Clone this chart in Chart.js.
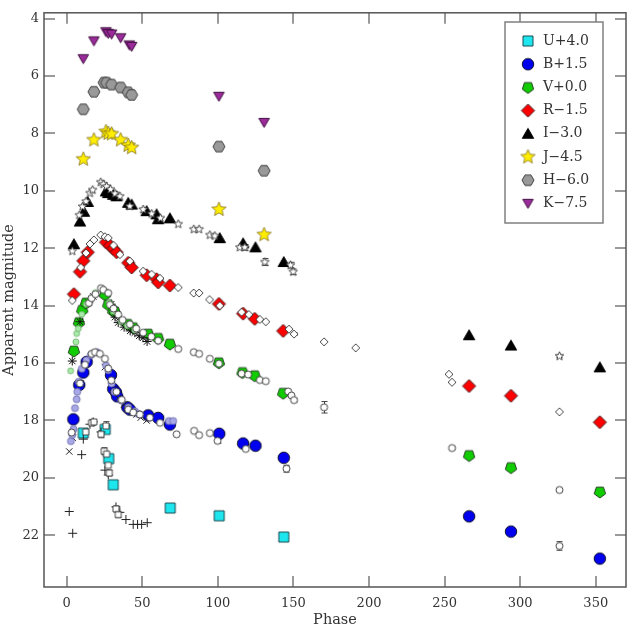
<!DOCTYPE html>
<html>
<head>
<meta charset="utf-8">
<script src="https://cdn.jsdelivr.net/npm/chart.js@4.4.0/dist/chart.umd.min.js"></script>
<style>
  html, body { margin: 0; padding: 0; background: #fff; }
</style>
</head>
<body>
<canvas id="lightCurve" width="632" height="632"></canvas>
<script>
// axis ticks
const phaseTicks = [0, 50, 100, 150, 200, 250, 300, 350];
const magTicks = [4, 6, 8, 10, 12, 14, 16, 18, 20, 22];

const legendLabels = ['U+4.0', 'B+1.5', 'V+0.0', 'R\u22121.5', 'I\u22123.0', 'J\u22124.5', 'H\u22126.0', 'K\u22127.5'];

// main photometry, [phase, shifted magnitude]
const bandU = [[11.0, 18.44], [25.5, 18.31], [27.8, 19.33], [30.8, 20.24], [68.5, 21.05], [100.9, 21.32], [143.6, 22.06]];
const bandB = [[4.4, 17.96], [8.3, 16.76], [11.0, 16.33], [13.2, 15.96], [29.3, 16.42], [30.8, 16.90], [32.6, 17.02], [33.4, 17.16],
  [40.1, 17.54], [41.8, 17.62], [53.9, 17.82], [60.5, 17.91], [68.3, 18.14], [100.9, 18.46], [116.7, 18.80], [124.9, 18.88],
  [143.6, 19.30], [266.2, 21.34], [293.9, 21.87], [352.7, 22.81]];
const bandV = [[4.8, 15.58], [8.1, 14.59], [10.3, 14.16], [12.8, 13.91], [25.3, 13.62], [27.5, 13.97], [30.8, 14.19], [31.9, 14.22],
  [40.3, 14.65], [44.0, 14.77], [53.9, 14.99], [60.5, 15.14], [68.3, 15.34], [100.7, 15.99], [116.3, 16.33], [124.4, 16.44],
  [143.2, 17.05], [266.2, 19.22], [293.9, 19.64], [352.7, 20.49]];
const bandR = [[4.8, 13.60], [8.8, 12.82], [11.0, 12.44], [13.9, 12.14], [26.0, 11.79], [28.6, 11.91], [30.8, 12.02], [33.0, 12.14],
  [40.7, 12.51], [43.0, 12.67], [52.9, 12.94], [59.5, 13.08], [60.5, 13.19], [68.3, 13.30], [100.7, 13.94], [116.7, 14.28],
  [124.4, 14.46], [143.2, 14.88], [266.2, 16.80], [293.9, 17.14], [352.7, 18.06]];
const bandI = [[4.8, 11.86], [8.8, 11.07], [11.4, 10.73], [13.9, 10.39], [26.0, 10.02], [27.5, 10.08], [30.8, 10.14], [33.0, 10.19],
  [40.7, 10.42], [43.0, 10.48], [52.9, 10.71], [59.5, 10.82], [60.5, 10.99], [68.3, 10.96], [101.3, 11.65], [116.7, 11.83],
  [124.9, 11.97], [143.6, 12.48], [266.2, 15.03], [293.9, 15.39], [352.7, 16.15]];
const bandJ = [[11.0, 8.90], [18.0, 8.23], [26.0, 7.94], [27.5, 8.00], [29.7, 8.02], [35.7, 8.23], [40.7, 8.42], [43.0, 8.50],
  [100.7, 10.65], [130.6, 11.53]];
const bandH = [[11.0, 7.16], [18.0, 6.55], [24.7, 6.23], [26.4, 6.23], [29.7, 6.30], [35.7, 6.40], [40.7, 6.57], [43.0, 6.66],
  [100.7, 8.46], [130.6, 9.30]];
const bandK = [[11.0, 5.40], [18.0, 4.78], [26.0, 4.46], [27.5, 4.52], [29.7, 4.54], [35.7, 4.67], [41.4, 4.92], [43.0, 4.97],
  [100.7, 6.71], [130.6, 7.62]];

// comparison photometry (open symbols)
const compU = [[12.6, 18.40], [16.5, 18.08], [18.0, 18.05], [22.7, 18.48], [24.8, 19.07], [26.0, 18.19], [26.4, 19.17],
  [27.5, 19.56], [28.2, 19.83], [32.6, 21.08], [34.1, 21.28]];
const compB = [[3.3, 18.42], [8.8, 16.71], [12.1, 16.06], [16.5, 15.68], [18.7, 15.62], [22.0, 15.68], [25.3, 15.85], [27.5, 16.19],
  [29.5, 16.60], [33.0, 17.00], [36.4, 17.28], [40.7, 17.62], [44.0, 17.72], [48.4, 17.79], [55.0, 17.90], [61.7, 18.08],
  [72.7, 18.48], [84.3, 18.36], [87.6, 18.51], [94.7, 18.44], [99.8, 18.71], [118.5, 18.99], [145.4, 19.68], [326.0, 22.37]];
const compV = [[14.7, 13.91], [16.5, 13.74], [19.0, 13.60], [22.7, 13.39], [24.2, 13.45], [27.5, 13.56], [28.6, 13.97], [31.0, 14.10],
  [34.1, 14.31], [37.0, 14.50], [41.8, 14.65], [46.0, 14.80], [50.6, 14.94], [56.0, 15.08], [60.5, 15.22], [73.8, 15.51],
  [84.1, 15.62], [87.6, 15.68], [94.7, 15.85], [100.7, 16.02], [115.7, 16.37], [120.0, 16.40], [127.8, 16.59], [131.7, 16.63],
  [146.5, 16.99], [148.7, 17.13], [150.4, 17.29], [170.3, 17.54], [254.9, 18.96], [326.0, 20.42]];
const compR = [[3.7, 13.82], [9.3, 12.67], [12.8, 12.17], [15.4, 11.85], [18.0, 11.71], [22.5, 11.54], [25.3, 11.60], [27.5, 11.64],
  [31.0, 11.90], [35.2, 12.22], [41.8, 12.45], [50.6, 12.80], [56.2, 12.91], [61.7, 13.05], [73.8, 13.37], [84.0, 13.56],
  [87.6, 13.56], [94.5, 13.79], [101.3, 14.00], [115.7, 14.23], [120.5, 14.31], [127.8, 14.48], [131.7, 14.56], [147.1, 14.82],
  [150.4, 14.99], [170.3, 15.26], [191.2, 15.47], [252.9, 16.39], [254.9, 16.67], [326.0, 17.70]];
const compI = [[3.7, 12.10], [8.3, 10.85], [10.5, 10.55], [12.8, 10.37], [15.4, 10.08], [17.2, 9.97], [22.5, 9.70], [24.2, 9.77],
  [26.4, 9.85], [29.0, 9.95], [32.0, 10.10], [35.2, 10.19], [41.8, 10.54], [50.6, 10.65], [56.2, 10.80], [62.0, 10.95],
  [73.8, 11.16], [84.1, 11.34], [87.6, 11.34], [94.7, 11.54], [98.0, 11.57], [114.5, 11.97], [117.8, 11.97], [131.1, 12.48],
  [148.1, 12.59], [149.8, 12.82], [326.0, 15.76]];

// other sources
const otherB = [[2.8, 18.72], [3.7, 18.50], [4.5, 18.30], [5.5, 17.57], [6.6, 17.26], [7.0, 17.00], [8.0, 16.65], [10.0, 16.20],
  [13.0, 15.90], [16.0, 15.72], [20.0, 15.62], [26.0, 16.08], [27.5, 16.25], [29.7, 16.71], [31.5, 17.00], [36.0, 17.30],
  [40.7, 17.54], [45.1, 17.68], [47.3, 17.77], [48.4, 17.79], [67.6, 18.02], [70.5, 18.02]];
const otherV = [[2.6, 16.27], [6.1, 15.26], [6.6, 14.97], [7.7, 14.80], [10.0, 14.30], [13.0, 13.95], [16.0, 13.75], [19.0, 13.55],
  [28.0, 13.90], [31.0, 14.20], [36.0, 14.55], [40.0, 14.70], [45.0, 14.85]];
const starV = [[3.7, 15.93], [8.8, 14.56], [14.5, 13.90], [17.6, 13.68], [29.5, 13.95], [32.0, 14.40], [34.1, 14.59], [38.0, 14.75],
  [42.0, 14.88], [45.1, 14.94], [48.0, 15.05], [50.5, 15.12], [53.2, 15.25]];
const crossB = [[1.7, 19.08], [4.0, 18.60], [9.3, 16.71], [25.3, 16.14], [30.0, 16.60], [34.1, 17.22], [38.0, 17.45], [43.0, 17.68],
  [46.3, 17.79], [49.0, 17.90], [52.9, 18.00]];
const plusU = [[1.7, 21.17], [4.0, 21.93], [9.9, 19.19], [11.0, 18.65], [15.4, 18.13], [17.5, 18.05], [22.7, 18.40], [25.3, 19.73],
  [27.5, 19.90], [32.6, 21.01], [35.2, 21.20], [39.2, 21.45], [44.0, 21.62], [46.9, 21.62], [49.6, 21.62], [53.3, 21.56]];

// [phase, mag, error] for the points that show error bars
const errorBars = [[131.1, 12.48, 0.12], [117.8, 11.97, 0.1], [148.1, 12.59, 0.1], [149.8, 12.82, 0.1], [170.3, 17.54, 0.2],
  [145.4, 19.68, 0.12], [99.8, 18.71, 0.08], [326.0, 22.37, 0.15], [16.5, 18.08, 0.1], [22.7, 18.48, 0.12],
  [24.8, 19.07, 0.12], [26.0, 18.19, 0.15], [28.2, 19.83, 0.1], [32.6, 21.08, 0.1], [34.1, 21.28, 0.1],
  [254.9, 18.96, 0.04], [326.0, 20.42, 0.04], [326.0, 15.76, 0.05], [150.4, 17.29, 0.06], [150.4, 14.99, 0.05]];

function polyPath(g, cx, cy, radii, n, startDeg) {
  for (let i = 0; i < n; i++) {
    const a = (startDeg + i * 360 / n) * Math.PI / 180;
    const r = radii[i % radii.length];
    const px = cx + r * Math.cos(a), py = cy + r * Math.sin(a);
    if (i === 0) g.moveTo(px, py); else g.lineTo(px, py);
  }
  g.closePath();
}

function makeMarker(shape, size, fill, stroke, lw) {
  const d = Math.ceil(size + 4);
  const c = document.createElement('canvas');
  c.width = d; c.height = d;
  const g = c.getContext('2d');
  const cx = d / 2, cy = d / 2, r = size / 2;
  g.beginPath();
  if (shape === 'circle') g.arc(cx, cy, r, 0, Math.PI * 2);
  else if (shape === 'square') g.rect(cx - r, cy - r, size, size);
  else if (shape === 'diamond') polyPath(g, cx, cy, [r], 4, -90);
  else if (shape === 'pentagon') polyPath(g, cx, cy, [r], 5, 90);
  else if (shape === 'hexagon') polyPath(g, cx, cy, [r], 6, 0);
  else if (shape === 'triUp') polyPath(g, cx, cy + r * 0.2, [r * 1.1], 3, -90);
  else if (shape === 'triDown') polyPath(g, cx, cy - r * 0.2, [r * 1.1], 3, 90);
  else if (shape === 'star') polyPath(g, cx, cy, [r, r * 0.45], 10, -90);
  g.fillStyle = fill;
  g.fill();
  g.lineWidth = lw;
  g.strokeStyle = stroke;
  g.stroke();
  return c;
}

const mainMarkers = [
  makeMarker('square', 10, '#1ee6ee', '#1b4b50', 1),
  makeMarker('circle', 11.5, '#0000ee', '#101030', 1),
  makeMarker('pentagon', 12, '#11cc00', '#204020', 1),
  makeMarker('diamond', 13, '#ff0000', '#401010', 1),
  makeMarker('triUp', 12, '#000000', '#000000', 1),
  makeMarker('star', 15, '#ffee00', '#807020', 0.8),
  makeMarker('hexagon', 12, '#999999', '#404040', 1),
  makeMarker('triDown', 11, '#9b2a9b', '#401040', 1)
];
const mainBands = [bandU, bandB, bandV, bandR, bandI, bandJ, bandH, bandK];

const toPts = arr => arr.map(p => ({ x: p[0], y: p[1] }));

const datasets = [];
mainBands.forEach((band, i) => {
  datasets.push({ label: legendLabels[i], data: toPts(band), pointStyle: mainMarkers[i], order: 2 });
});

const openSpecs = [
  [compU, makeMarker('square', 6, '#ffffff', '#333333', 0.9)],
  [compB, makeMarker('circle', 7, '#ffffff', '#333333', 0.9)],
  [compV, makeMarker('circle', 7, '#ffffff', '#333333', 0.9)],
  [compR, makeMarker('diamond', 8, '#ffffff', '#333333', 0.9)],
  [compI, makeMarker('star', 9, '#ffffff', '#333333', 0.9)],
  [otherB, makeMarker('circle', 7, '#a8a8e8', '#6a6aa8', 0.8)],
  [otherV, makeMarker('circle', 6, '#a8eaa8', '#70b070', 0.8)]
];
openSpecs.forEach(s => {
  datasets.push({ label: '', data: toPts(s[0]), pointStyle: s[1], order: 1 });
});
datasets.push({ label: '', data: toPts(starV), pointStyle: 'star', radius: 4.5, borderColor: '#111', borderWidth: 1, order: 1 });
datasets.push({ label: '', data: toPts(crossB), pointStyle: 'crossRot', radius: 4.5, borderColor: '#222', borderWidth: 1, order: 1 });
datasets.push({ label: '', data: toPts(plusU), pointStyle: 'cross', radius: 4.5, borderColor: '#222', borderWidth: 1, order: 1 });

const serif = 'DejaVu Serif';

const errorBarPlugin = {
  id: 'errorBars',
  beforeDatasetsDraw(chart) {
    const { ctx, scales } = chart;
    ctx.save();
    ctx.strokeStyle = '#444';
    ctx.lineWidth = 1;
    ctx.beginPath();
    errorBars.forEach(e => {
      const x = Math.round(scales.x.getPixelForValue(e[0])) + 0.5;
      const y1 = scales.y.getPixelForValue(e[1] - e[2]);
      const y2 = scales.y.getPixelForValue(e[1] + e[2]);
      ctx.moveTo(x, y1); ctx.lineTo(x, y2);
      ctx.moveTo(x - 3, y1); ctx.lineTo(x + 3, y1);
      ctx.moveTo(x - 3, y2); ctx.lineTo(x + 3, y2);
    });
    ctx.stroke();
    ctx.restore();
  }
};

const framePlugin = {
  id: 'frame',
  afterDatasetsDraw(chart) {
    const { ctx, chartArea: a, scales } = chart;
    ctx.save();
    ctx.strokeStyle = '#9a9a9a';
    ctx.lineWidth = 2;
    ctx.beginPath();
    phaseTicks.forEach(v => {
      const x = Math.round(scales.x.getPixelForValue(v));
      ctx.moveTo(x, a.bottom); ctx.lineTo(x, a.bottom - 11);
      ctx.moveTo(x, a.top); ctx.lineTo(x, a.top + 11);
    });
    magTicks.forEach(v => {
      const y = Math.round(scales.y.getPixelForValue(v));
      ctx.moveTo(a.left, y); ctx.lineTo(a.left + 11, y);
      ctx.moveTo(a.right, y); ctx.lineTo(a.right - 11, y);
    });
    ctx.stroke();
    ctx.strokeStyle = '#555';
    ctx.lineWidth = 1.5;
    ctx.strokeRect(a.left, a.top, a.right - a.left, a.bottom - a.top);

    // axis titles
    ctx.fillStyle = '#333';
    ctx.font = '14.5px "' + serif + '"';
    ctx.textAlign = 'center';
    ctx.textBaseline = 'middle';
    ctx.fillText('Phase', (a.left + a.right) / 2, 620);
    ctx.translate(9, (a.top + a.bottom) / 2);
    ctx.rotate(-Math.PI / 2);
    ctx.fillText('Apparent magnitude', 0, 0);
    ctx.restore();

    // legend
    ctx.save();
    ctx.fillStyle = '#fff';
    ctx.fillRect(505, 22, 98, 201);
    ctx.strokeStyle = '#808080';
    ctx.lineWidth = 1.5;
    ctx.strokeRect(505, 22, 98, 201);
    ctx.fillStyle = '#333';
    ctx.font = '14px "' + serif + '"';
    ctx.textAlign = 'left';
    ctx.textBaseline = 'middle';
    legendLabels.forEach((lab, i) => {
      const y = 41 + i * 23.2;
      const m = mainMarkers[i];
      ctx.drawImage(m, 528 - m.width / 2, y - m.height / 2);
      ctx.fillText(lab, 543, y);
    });
    ctx.restore();
  }
};

new Chart(document.getElementById('lightCurve'), {
  type: 'scatter',
  data: { datasets },
  options: {
    responsive: false,
    animation: false,
    layout: { padding: { top: 5, right: 6, left: 0, bottom: 0 } },
    plugins: { legend: { display: false }, tooltip: { enabled: false } },
    scales: {
      x: {
        type: 'linear', min: -15, max: 370,
        afterBuildTicks: s => { s.ticks = phaseTicks.map(v => ({ value: v })); },
        afterFit: s => { s.height = 45; },
        grid: { display: false, drawTicks: false },
        border: { display: false },
        ticks: { font: { family: serif, size: 13 }, color: '#333', padding: 9, maxRotation: 0, autoSkip: false }
      },
      y: {
        type: 'linear', reverse: true, min: 3.8, max: 23.8,
        afterBuildTicks: s => { s.ticks = magTicks.map(v => ({ value: v })); },
        afterFit: s => { s.width = 44; },
        grid: { display: false, drawTicks: false },
        border: { display: false },
        ticks: { font: { family: serif, size: 13 }, color: '#333', padding: 5, autoSkip: false }
      }
    }
  },
  plugins: [errorBarPlugin, framePlugin]
});
</script>
</body>
</html>
